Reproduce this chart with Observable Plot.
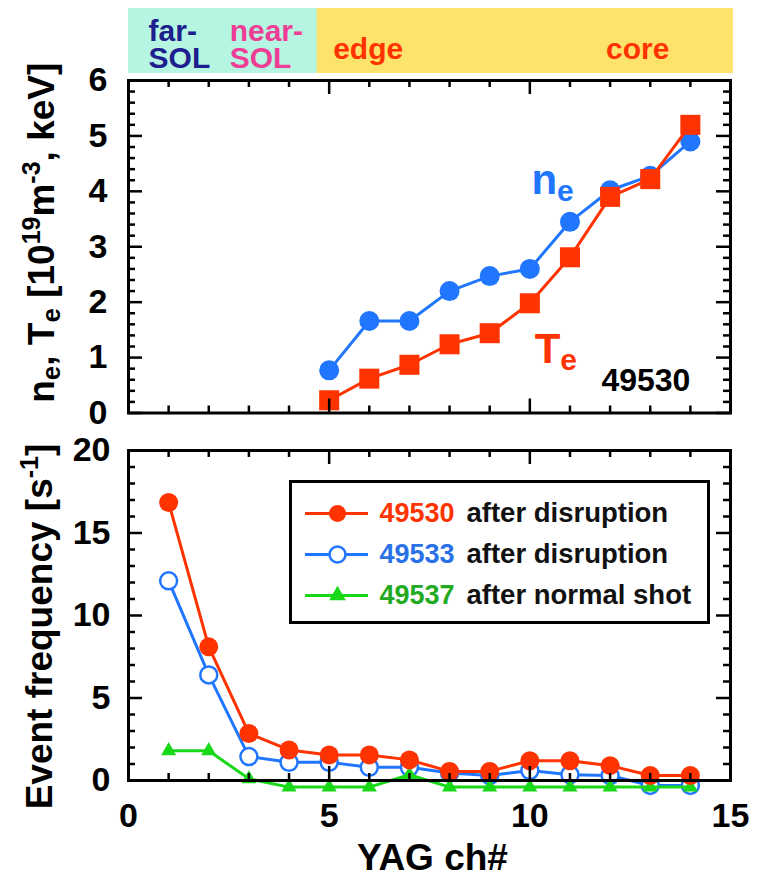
<!DOCTYPE html>
<html><head><meta charset="utf-8">
<script src="https://cdn.jsdelivr.net/npm/d3@7"></script>
<script src="https://cdn.jsdelivr.net/npm/@observablehq/plot@0.6"></script>
<style>
body{margin:0;background:#fff;}
#chart{position:relative;width:765px;height:878px;overflow:hidden;background:#fff;}
#chart svg{position:absolute;overflow:visible;background:transparent;}
</style></head><body><div id="chart"></div>
<script>
// ---------------- data ----------------
const topChannels = [5, 6, 7, 8, 9, 10, 11, 12, 13, 14];
const neValues = [0.77, 1.66, 1.66, 2.2, 2.47, 2.6, 3.45, 4.02, 4.28, 4.9];
const teValues = [0.23, 0.62, 0.87, 1.24, 1.44, 1.98, 2.81, 3.9, 4.22, 5.2];

const bottomChannels = [1, 2, 3, 4, 5, 6, 7, 8, 9, 10, 11, 12, 13, 14];
const freq49530 = [16.85, 8.1, 2.85, 1.85, 1.55, 1.55, 1.25, 0.55, 0.55, 1.2, 1.2, 0.9, 0.3, 0.3];
const freq49533 = [12.1, 6.4, 1.45, 1.1, 1.1, 0.8, 0.8, 0.45, 0.3, 0.6, 0.35, 0.3, -0.3, -0.3];
const freq49537 = [1.8, 1.8, 0.1, -0.4, -0.4, -0.4, 0.35, -0.4, -0.4, -0.4, -0.4, -0.4, -0.4, -0.4];

const shotNames = ["49530", "49533", "49537"];
const shotDescs = ["after disruption", "after disruption", "after normal shot"];

const regionStarts = [0, 4.7];
const regionEnds = [4.7, 15];
const regionTexts = ["far-\nSOL", "near-\nSOL", "edge", "core"];
const regionTextX = [0.5, 2.52, 5.1, 11.9];

const xMajorTicks = [0, 5, 10, 15];
const xMinorTicks = [1, 2, 3, 4, 6, 7, 8, 9, 11, 12, 13, 14];
const topYMajor = [0, 1, 2, 3, 4, 5, 6];
const topYMinor = d3.range(0, 6.001, 0.2).filter(v => Math.abs(v - Math.round(v)) > 1e-6);
const botYMajor = [0, 5, 10, 15, 20];
const botYMinor = d3.range(0, 21).filter(v => v % 5 !== 0);

// ---------------- styles ----------------
const FONT = '"Liberation Sans", Arial, Helvetica, sans-serif';
const RED = "#ff3300", BLUE = "#2176ff", GREEN = "#18d818", GREEN_TXT = "#22aa22", BLUE_TXT = "#2a70e6";
const W = 765, ML = 128, MR = 35, FW = W - ML - MR;
const TICK_FS = 34, TITLE_FS = 37;
const baseStyle = {fontFamily: FONT, fontWeight: "bold", fontSize: "30px", background: "transparent", overflow: "visible", color: "black"};

const chart = document.getElementById("chart");
function place(svg, left, top) { svg.style.left = left + "px"; svg.style.top = top + "px"; chart.appendChild(svg); return svg; }

function ticks(frameH, yMajor, yMinor) {
  const maj = 14, min = 7, c = {stroke: "black", strokeWidth: 2.5};
  return [
    Plot.tickX(xMinorTicks, {...c, insetTop: frameH - min}),
    Plot.tickX(xMajorTicks, {...c, insetTop: frameH - maj}),
    Plot.tickX(xMinorTicks, {...c, insetBottom: frameH - min}),
    Plot.tickX(xMajorTicks, {...c, insetBottom: frameH - maj}),
    Plot.tickY(yMinor, {...c, insetRight: FW - min}),
    Plot.tickY(yMajor, {...c, insetRight: FW - maj}),
    Plot.tickY(yMinor, {...c, insetLeft: FW - min}),
    Plot.tickY(yMajor, {...c, insetLeft: FW - maj})
  ];
}

// rich text (sub/superscripts) applied to Plot text marks, matched by their plain content
function richify(svg, plain, parts, opt) {
  d3.select(svg).selectAll("text").filter(function () { return this.textContent === plain; }).each(function () {
    const t = d3.select(this);
    t.text(null);
    let shift = 0;
    for (const [s, kind] of parts) {
      const sp = t.append("tspan").text(s);
      const target = kind === "sup" ? -opt.supShift : kind === "sub" ? opt.subShift : 0;
      if (target !== shift) { sp.attr("dy", target - shift); shift = target; }
      if (kind) sp.attr("font-size", kind === "sup" ? opt.supSize : opt.subSize);
    }
  });
}

// ---------------- region band ----------------
const regions = regionStarts.map((s, i) => ({x1: s, x2: regionEnds[i], fill: i === 0 ? "#b6f5e2" : "#fde36c"}));
const regionLabels = regionTexts.map((t, i) => ({text: t, x: regionTextX[i], y: i < 2 ? 0.43 : 0.36,
  color: ["#1e1e8e", "#ee3d95", RED, RED][i]}));
const band = Plot.plot({
  width: W, height: 80, marginLeft: ML, marginRight: MR, marginTop: 8, marginBottom: 7,
  x: {domain: [0, 15], axis: null}, y: {domain: [0, 1], axis: null},
  style: baseStyle,
  marks: [
    Plot.rect(regions, {x1: "x1", x2: "x2", y1: 0, y2: 1, fill: "fill", insetRight: -3}),
    Plot.text(regionLabels, {x: "x", y: "y", text: "text", fill: "color", textAnchor: "start", fontSize: 30, lineHeight: 0.9, fontWeight: "bold"})
  ]
});
place(band, 0, 0);

// ---------------- top panel ----------------
const topData = topChannels.map((ch, i) => ({ch, ne: neValues[i], te: teValues[i]}));
const TOP_H = 440, TOP_MT = 80, TOP_MB = 27.5, TOP_FH = TOP_H - TOP_MT - TOP_MB;
const topPlot = Plot.plot({
  width: W, height: TOP_H, marginLeft: ML, marginRight: MR, marginTop: TOP_MT, marginBottom: TOP_MB,
  x: {domain: [0, 15], axis: null},
  y: {domain: [0, 6], label: null},
  style: baseStyle,
  marks: [
    Plot.line(topData, {x: "ch", y: "ne", stroke: BLUE, strokeWidth: 3}),
    Plot.dot(topData, {x: "ch", y: "ne", r: 10, fill: BLUE}),
    Plot.line(topData, {x: "ch", y: "te", stroke: RED, strokeWidth: 3}),
    Plot.dot(topData, {x: "ch", y: "te", r: 11.3, symbol: "square", fill: RED}),
    Plot.text(["ne"], {x: 10.04, y: 4.19, text: d => d, fill: BLUE, fontSize: 42, textAnchor: "start"}),
    Plot.text(["Te"], {x: 10.12, y: 1.15, text: d => d, fill: RED, fontSize: 42, textAnchor: "start"}),
    Plot.text(["49530"], {x: 14, y: 0.59, text: d => d, fill: "black", fontSize: 32, textAnchor: "end"}),
    ...ticks(TOP_FH, topYMajor, topYMinor),
    Plot.frame({stroke: "black", strokeWidth: 3}),
    Plot.axisY({ticks: topYMajor, tickFormat: d => String(d), tickSize: 0, tickPadding: 21, fontSize: TICK_FS, fontWeight: "bold", label: null}),
    Plot.text(["ne, Te [1019m-3, keV]"], {frameAnchor: "left", textAnchor: "middle", rotate: -90, dx: -86, dy: -14, text: d => d, fontSize: TITLE_FS, fontWeight: "bold"})
  ]
});
place(topPlot, 0, 0);
richify(topPlot, "ne", [["n"], ["e", "sub"]], {subShift: 7, subSize: 30});
richify(topPlot, "Te", [["T"], ["e", "sub"]], {subShift: 7, subSize: 30});
richify(topPlot, "ne, Te [1019m-3, keV]", [["n"], ["e", "sub"], [", T"], ["e", "sub"], [" [10"], ["19", "sup"], ["m"], ["-3", "sup"], [", keV]"]],
  {subShift: 6, subSize: 26, supShift: 14, supSize: 25});

// ---------------- bottom panel ----------------
const botData = bottomChannels.map((ch, i) => ({ch, a: freq49530[i], b: freq49533[i], c: freq49537[i]}));
const BOT_H = 878, BOT_MT = 450, BOT_MB = 98, BOT_FH = BOT_H - BOT_MT - BOT_MB;
const botPlot = Plot.plot({
  width: W, height: BOT_H, marginLeft: ML, marginRight: MR, marginTop: BOT_MT, marginBottom: BOT_MB,
  x: {domain: [0, 15], label: null},
  y: {domain: [0, 20], label: null},
  style: baseStyle,
  marks: [
    Plot.line(botData, {x: "ch", y: "b", stroke: BLUE, strokeWidth: 3}),
    Plot.dot(botData, {x: "ch", y: "b", r: 8.5, fill: "white", stroke: BLUE, strokeWidth: 2.5}),
    Plot.line(botData, {x: "ch", y: "c", stroke: GREEN, strokeWidth: 3}),
    Plot.dot(botData, {x: "ch", y: "c", r: 5.6, symbol: "triangle", fill: GREEN}),
    Plot.line(botData, {x: "ch", y: "a", stroke: RED, strokeWidth: 3}),
    Plot.dot(botData, {x: "ch", y: "a", r: 9.5, fill: RED}),
    ...ticks(BOT_FH, botYMajor, botYMinor),
    Plot.frame({stroke: "black", strokeWidth: 3}),
    Plot.axisY({ticks: botYMajor, tickFormat: d => String(d), tickSize: 0, tickPadding: 18, fontSize: TICK_FS, fontWeight: "bold", label: null}),
    Plot.axisX({ticks: xMajorTicks, tickFormat: d => String(d), tickSize: 0, tickPadding: 22, fontSize: TICK_FS, fontWeight: "bold", label: null}),
    Plot.text(["YAG ch#"], {frameAnchor: "bottom", lineAnchor: "middle", textAnchor: "middle", dx: 3, dy: 78, text: d => d, fontSize: TITLE_FS, fontWeight: "bold"}),
    Plot.text(["Event frequency [s-1]"], {frameAnchor: "left", textAnchor: "middle", rotate: -90, dx: -88, dy: 11, text: d => d, fontSize: TITLE_FS, fontWeight: "bold"})
  ]
});
place(botPlot, 0, 0);
richify(botPlot, "Event frequency [s-1]", [["Event frequency [s"], ["-1", "sup"], ["]"]], {supShift: 14, supSize: 25});

// ---------------- legend ----------------
const legendItems = shotNames.map((name, i) => ({name, desc: shotDescs[i],
  color: [RED, BLUE, GREEN][i], text: [RED, BLUE_TXT, GREEN_TXT][i]}));
const legend = Plot.plot({
  width: 422, height: 145, margin: 0,
  x: {type: "identity", axis: null},
  y: {type: "point", domain: shotNames, range: [33.5, 116], padding: 0, axis: null},
  style: {...baseStyle, fontSize: "27px"},
  marks: [
    Plot.frame({fill: "white", stroke: "black", strokeWidth: 3, inset: 2}),
    Plot.ruleY(legendItems, {y: "name", x1: 17, x2: 80, stroke: "color", strokeWidth: 3}),
    Plot.dot(legendItems.filter((d, i) => i === 0), {x: 49, y: "name", r: 8.5, fill: RED}),
    Plot.dot(legendItems.filter((d, i) => i === 1), {x: 49, y: "name", r: 8, fill: "white", stroke: BLUE, strokeWidth: 2.5}),
    Plot.dot(legendItems.filter((d, i) => i === 2), {x: 49, y: "name", r: 6.2, symbol: "triangle", fill: GREEN}),
    Plot.text(legendItems, {x: 91, y: "name", text: "name", fill: "text", textAnchor: "start", fontSize: 27, fontWeight: "bold"}),
    Plot.text(legendItems, {x: 178, y: "name", text: "desc", fill: "#111", textAnchor: "start", fontSize: 27.5, fontWeight: "bold"})
  ]
});
place(legend, 288, 479);
</script></body></html>
